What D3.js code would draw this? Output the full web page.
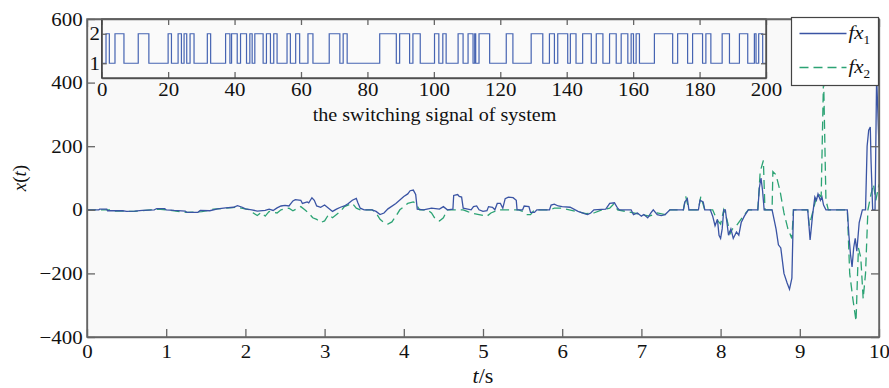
<!DOCTYPE html>
<html>
<head>
<meta charset="utf-8">
<script src="https://cdn.jsdelivr.net/npm/d3@7"></script>
<style>
  body { margin: 0; background: #fff; }
  svg text { font-family: "Liberation Serif", "Times New Roman", serif; fill: #111; }
</style>
</head>
<body>
<svg id="chart" width="889" height="388"></svg>
<script>
// tick values
const xTicks = [0, 1, 2, 3, 4, 5, 6, 7, 8, 9, 10];
const yTicks = [-400, -200, 0, 200, 400, 600];
const insetXTicks = [0, 20, 40, 60, 80, 100, 120, 140, 160, 180, 200];
const insetYTicks = [1, 2];

// switching signal (time, active subsystem)
const switchTimes = [0, 1.3, 2.3, 4.0, 6.7, 11.0, 14.2, 20.0, 21.0, 23.0, 24.0, 24.8, 25.6, 26.6, 27.8,
  31.8, 32.8, 37.3, 38.6, 39.1, 40.8, 41.8, 43.6, 44.6, 45.3, 46.1, 48.6, 49.6, 50.8, 51.8, 52.8,
  55.8, 56.8, 58.4, 59.6, 62.1, 63.6, 68.5, 71.7, 72.7, 73.9, 83.7, 88.7, 89.7, 92.7, 93.7, 95.9,
  100.2, 101.5, 102.7, 103.7, 107.3, 108.8, 110.3, 111.8, 112.3, 112.6, 113.6, 116.8, 121.8, 123.8,
  129.3, 132.8, 134.8, 136.3, 137.3, 140.3, 141.1, 142.8, 144.8, 147.4, 148.9, 150.9, 152.9, 154.9,
  156.4, 158.4, 159.4, 160.1, 160.9, 161.9, 166.4, 171.9, 173.4, 176.4, 177.9, 180.9, 181.9, 183.4,
  186.8, 189, 192, 194.5, 196.5, 197, 197.8, 199, 200];
const switchModes = [1,
  2,1,2,1,2,1,2,1,2,1,2,1,2,1,2,1,
  2,1,2,1,2,1,2,1,2,1,2,1,2,1,2,1,
  2,1,2,1,2,1,2,1,2,1,2,1,2,1,2,1,
  2,1,2,1,2,1,2,1,2,1,2,1,2,1,2,1,
  2,1,2,1,2,1,2,1,2,1,2,1,2,1,2,1,
  2,1,2,1,2,1,2,1,2,1,2,1,2,1,2,1,
  1];

// fx1 : [t, x(t)]
const fx1Data = [[0,0],[0.15,0],[0.16,2],[0.25,2],[0.26,-3],[0.45,-3],[0.5,-5],[0.6,-4],[0.7,-2],[0.85,0],
  [0.88,4],[0.98,4],[1.0,0],[1.1,-2],[1.24,-4],[1.26,-8],[1.4,-8],[1.43,-2],[1.55,-3],[1.65,3],
  [1.75,6],[1.85,8],[1.9,13],[1.96,8],[2.0,3],[2.08,0],[2.15,-4],[2.25,-2],[2.3,2],[2.35,-2],
  [2.4,6],[2.45,12],[2.5,14],[2.55,12],[2.6,28],[2.63,32],[2.7,30],[2.72,20],[2.78,25],[2.8,22],
  [2.84,38],[2.87,30],[2.9,12],[2.95,8],[3.0,15],[3.05,5],[3.1,-5],[3.15,2],[3.2,8],[3.25,12],
  [3.3,20],[3.35,30],[3.4,36],[3.42,22],[3.45,5],[3.5,0],[3.6,0],[3.65,-5],[3.7,-15],[3.75,-10],
  [3.8,3],[3.9,20],[4.0,42],[4.05,50],[4.08,60],[4.12,62],[4.15,48],[4.17,2],[4.25,0],[4.35,5],
  [4.45,2],[4.5,10],[4.55,0],[4.62,2],[4.63,45],[4.68,48],[4.7,42],[4.73,40],[4.75,5],[4.85,0],
  [4.88,10],[4.92,12],[4.95,0],[5.0,-5],[5.05,-3],[5.07,10],[5.12,8],[5.15,0],[5.18,20],[5.22,20],
  [5.25,5],[5.28,35],[5.32,40],[5.38,38],[5.42,30],[5.43,0],[5.5,0],[5.52,12],[5.58,10],[5.6,-8],
  [5.65,-8],[5.68,0],[5.84,0],[5.86,15],[5.9,18],[5.95,12],[6.0,10],[6.1,8],[6.2,-5],[6.28,-12],
  [6.32,-15],[6.36,-10],[6.4,0],[6.55,2],[6.6,20],[6.66,22],[6.7,5],[6.72,0],[6.87,0],[6.9,-15],
  [6.95,-10],[7.0,-20],[7.03,-15],[7.08,-25],[7.12,-10],[7.15,0],[7.2,-15],[7.25,-18],[7.3,-15],[7.36,0],
  [7.53,0],[7.55,25],[7.58,35],[7.6,0],[7.72,0],[7.74,30],[7.78,25],[7.8,0],[7.87,0],[7.9,-20],
  [7.93,-50],[7.96,-30],[7.98,-80],[8.0,-90],[8.02,-60],[8.04,0],[8.06,0],[8.08,-40],[8.1,-80],[8.13,-60],
  [8.16,-90],[8.2,-70],[8.23,-80],[8.26,-40],[8.3,-20],[8.35,0],[8.47,0],[8.49,70],[8.51,100],[8.53,60],
  [8.55,0],[8.65,0],[8.7,-60],[8.73,-110],[8.76,-120],[8.8,-200],[8.84,-230],[8.87,-250],[8.9,-215],[8.92,0],
  [9.1,0],[9.13,-95],[9.16,-20],[9.19,40],[9.21,30],[9.23,50],[9.26,30],[9.28,40],[9.3,15],[9.33,0],
  [9.6,0],[9.62,-80],[9.64,-140],[9.66,-180],[9.68,-120],[9.7,-90],[9.72,-130],[9.75,-40],[9.79,0],[9.83,0],
  [9.85,200],[9.87,250],[9.89,260],[9.9,150],[9.92,0],[9.95,0],[9.97,420],[10,200]];

// fx2 : [t, x(t)]
const fx2Data = [[0,0],[0.3,0],[0.35,-4],[0.6,-5],[0.8,0],[0.9,2],[1.0,0],[1.25,-8],[1.45,-6],[1.6,2],
  [1.9,8],[2.05,0],[2.1,-10],[2.15,-18],[2.2,-8],[2.25,-20],[2.3,-5],[2.4,-10],[2.45,0],[2.55,5],
  [2.6,-3],[2.7,10],[2.75,0],[2.8,-10],[2.85,-25],[2.9,-30],[2.95,-40],[3.0,-35],[3.05,-15],[3.1,-25],
  [3.2,-5],[3.25,10],[3.35,20],[3.4,5],[3.45,0],[3.6,0],[3.65,-10],[3.7,-30],[3.75,-40],[3.8,-45],
  [3.85,-38],[3.9,-20],[3.95,0],[4.05,20],[4.12,25],[4.15,20],[4.2,0],[4.3,0],[4.35,-10],[4.4,-30],
  [4.45,-35],[4.5,-25],[4.55,0],[4.75,0],[4.8,-5],[4.85,-10],[4.95,-15],[5.05,-20],[5.1,-10],[5.2,0],
  [5.45,0],[5.5,-5],[5.55,-15],[5.6,-15],[5.65,0],[5.85,0],[5.9,5],[6.0,5],[6.3,-12],[6.4,-10],
  [6.5,0],[6.6,5],[6.65,18],[6.7,0],[6.9,-10],[7.0,-15],[7.1,-20],[7.2,-10],[7.3,-15],[7.36,0],
  [7.53,0],[7.56,42],[7.6,0],[7.72,0],[7.75,42],[7.8,0],[7.9,0],[7.95,-30],[8.0,-45],[8.04,0],
  [8.08,-30],[8.12,-75],[8.15,-60],[8.2,-50],[8.3,-15],[8.35,0],[8.47,0],[8.5,120],[8.54,155],[8.56,0],
  [8.65,0],[8.66,120],[8.7,110],[8.75,60],[8.8,-10],[8.85,-60],[8.9,-90],[8.92,0],[9.1,0],[9.12,-50],
  [9.15,-20],[9.2,30],[9.24,50],[9.27,40],[9.3,420],[9.33,30],[9.36,0],[9.6,0],[9.63,-200],[9.67,-280],
  [9.71,-350],[9.74,-120],[9.77,-150],[9.8,-280],[9.83,-200],[9.86,0],[9.9,50],[9.93,80],[9.96,30],[10,80]];

const blue = '#3a54a4';
const green = '#2ca374';
const axisColor = '#666';
const SX = 1.1; // the reference text is slightly stretched horizontally
const FS = 19;

const svg = d3.select('#chart');

const x = d3.scaleLinear().domain([0, 10]).range([87, 879]);
const y = d3.scaleLinear().domain([-400, 600]).range([337, 19]);

svg.append('rect')
  .attr('x', 87).attr('y', 19)
  .attr('width', 792).attr('height', 318)
  .attr('fill', '#f9f9f9');

svg.append('clipPath').attr('id', 'plotClip')
  .append('rect')
  .attr('x', 87).attr('y', 19)
  .attr('width', 792).attr('height', 318);

const line = d3.line()
  .x(d => x(d[0]))
  .y(d => y(d[1]));

svg.append('path')
  .datum(fx2Data)
  .attr('d', line)
  .attr('fill', 'none')
  .attr('stroke', green)
  .attr('stroke-width', 1.3)
  .attr('stroke-dasharray', '9,5')
  .attr('clip-path', 'url(#plotClip)');

svg.append('path')
  .datum(fx1Data)
  .attr('d', line)
  .attr('fill', 'none')
  .attr('stroke', blue)
  .attr('stroke-width', 1.3)
  .attr('clip-path', 'url(#plotClip)');

function styleAxis(g) {
  g.attr('font-family', null);
  g.selectAll('path, line').attr('stroke', axisColor).attr('stroke-width', 1.3);
  g.selectAll('text')
    .attr('font-size', FS)
    .attr('fill', '#111');
}

// main axes
svg.append('g')
  .attr('transform', 'translate(0,337)')
  .call(d3.axisBottom(x).tickValues(xTicks).tickSize(-8).tickSizeOuter(0).tickPadding(8).tickFormat(d3.format('d')))
  .call(styleAxis)
  .selectAll('text').attr('transform', `scale(${SX},1)`);

svg.append('g')
  .attr('transform', 'translate(87,0)')
  .call(d3.axisLeft(y).tickValues(yTicks).tickSize(-8).tickSizeOuter(0).tickPadding(4).tickFormat(d3.format('d')))
  .call(styleAxis)
  .selectAll('text').attr('transform', `scale(${SX},1)`);

svg.append('g')
  .attr('transform', 'translate(879,0)')
  .call(d3.axisRight(y).tickValues(yTicks).tickSize(-8).tickSizeOuter(0).tickFormat(''))
  .call(styleAxis);

svg.append('g')
  .attr('transform', 'translate(0,19)')
  .call(d3.axisTop(x).tickValues(xTicks).tickSize(-8).tickSizeOuter(0).tickFormat(''))
  .call(styleAxis);

// axis titles
const yTitle = svg.append('text')
  .attr('transform', 'translate(26,178) rotate(-90)')
  .attr('text-anchor', 'middle')
  .attr('font-size', 19);
yTitle.append('tspan').attr('font-style', 'italic').text('x');
yTitle.append('tspan').text('(');
yTitle.append('tspan').attr('font-style', 'italic').text('t');
yTitle.append('tspan').text(')');

const xTitle = svg.append('text')
  .attr('transform', `translate(483,383) scale(${SX},1)`)
  .attr('text-anchor', 'middle')
  .attr('font-size', 20);
xTitle.append('tspan').attr('font-style', 'italic').text('t');
xTitle.append('tspan').text('/s');

// inset: switching signal
const ix = d3.scaleLinear().domain([0, 200]).range([101.7, 766]);
const iy = d3.scaleLinear().domain([0.5, 2.5]).range([78, 19]);

svg.append('rect')
  .attr('x', 101.7).attr('y', 19)
  .attr('width', 664.3).attr('height', 59)
  .attr('fill', '#fafafa');

const switchLine = d3.line()
  .curve(d3.curveStepAfter)
  .x((d, i) => ix(switchTimes[i]))
  .y((d, i) => iy(switchModes[i]));

svg.append('path')
  .datum(switchTimes)
  .attr('d', switchLine)
  .attr('fill', 'none')
  .attr('stroke', '#4664b2')
  .attr('stroke-width', 1.2);

svg.append('g')
  .attr('transform', 'translate(0,78)')
  .call(d3.axisBottom(ix).tickValues(insetXTicks).tickSize(-6).tickSizeOuter(0).tickPadding(5).tickFormat(d3.format('d')))
  .call(styleAxis)
  .selectAll('text').attr('transform', `scale(${SX},1)`);

svg.append('g')
  .attr('transform', 'translate(0,19)')
  .call(d3.axisTop(ix).tickValues(insetXTicks).tickSize(-6).tickSizeOuter(0).tickFormat(''))
  .call(styleAxis);

svg.append('g')
  .attr('transform', 'translate(101.7,0)')
  .call(d3.axisLeft(iy).tickValues(insetYTicks).tickSize(-5).tickSizeOuter(0).tickPadding(1.5).tickFormat(d3.format('d')))
  .call(styleAxis)
  .selectAll('text').attr('transform', `scale(${SX},1)`);

svg.append('g')
  .attr('transform', 'translate(766,0)')
  .call(d3.axisRight(iy).tickValues(insetYTicks).tickSize(-5).tickSizeOuter(0).tickFormat(''))
  .call(styleAxis);

svg.append('rect')
  .attr('x', 101.7).attr('y', 19)
  .attr('width', 664.3).attr('height', 59)
  .attr('fill', 'none')
  .attr('stroke', '#444')
  .attr('stroke-width', 1.3);

svg.append('text')
  .attr('transform', 'translate(434.5,121) scale(1.06,1)')
  .attr('text-anchor', 'middle')
  .attr('font-size', 19)
  .text('the switching signal of system');

// plot frame
svg.append('rect')
  .attr('x', 87).attr('y', 19)
  .attr('width', 792).attr('height', 318)
  .attr('fill', 'none')
  .attr('stroke', axisColor)
  .attr('stroke-width', 1.5);

// legend
const legend = svg.append('g').attr('transform', 'translate(791.5,17.5)');
legend.append('rect')
  .attr('width', 87).attr('height', 68)
  .attr('fill', '#fff')
  .attr('stroke', '#444')
  .attr('stroke-width', 1.2);

const legendItems = [
  { sub: '1', color: blue, dash: null, y: 16 },
  { sub: '2', color: green, dash: '9,5', y: 50 }
];

legendItems.forEach(item => {
  legend.append('line')
    .attr('x1', 8).attr('x2', 55)
    .attr('y1', item.y).attr('y2', item.y)
    .attr('stroke', item.color)
    .attr('stroke-width', 1.3)
    .attr('stroke-dasharray', item.dash);
  const t = legend.append('text')
    .attr('transform', `translate(57,${item.y + 5}) scale(${SX},1)`)
    .attr('font-size', 19);
  t.append('tspan').attr('font-style', 'italic').text('fx');
  t.append('tspan').attr('font-size', 12).attr('dy', 5).text(item.sub);
});
</script>
</body>
</html>
